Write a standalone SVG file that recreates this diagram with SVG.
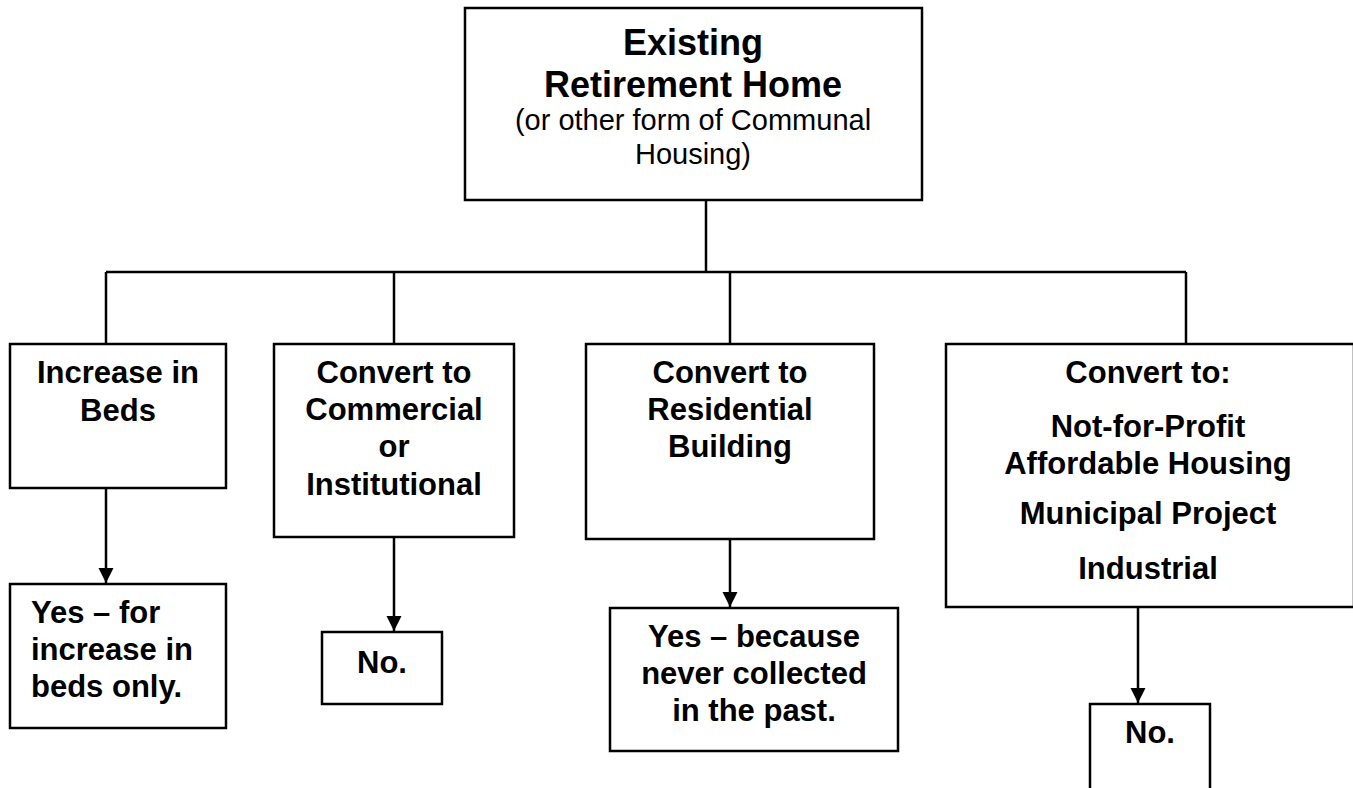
<svg xmlns="http://www.w3.org/2000/svg" width="1353" height="788" viewBox="0 0 1353 788">
<style>
.box{fill:#fff;stroke:#000;stroke-width:2.5}
.t{font-family:"Liberation Sans",Arial,sans-serif;font-weight:bold;font-size:31px;fill:#000;text-anchor:middle}
.l{text-anchor:start}
.title{font-size:36px}
.sub{font-weight:normal;font-size:29px}
.c{fill:none;stroke:#000;stroke-width:2.5}
</style>
<defs>
<marker id="ah" markerUnits="userSpaceOnUse" markerWidth="16" markerHeight="16" refX="15" refY="7.5" orient="auto">
<path d="M0,0 L15,7.5 L0,15 z" fill="#000"/>
</marker>
</defs>
<rect width="1353" height="788" fill="#fff"/>
<g id="connectors">
<path class="c" d="M706,200 V272 M106,272 H1186 M106,272 V344 M394,272 V344 M730,272 V344 M1186,272 V344"/>
<path class="c" d="M106,488 V583" marker-end="url(#ah)"/>
<path class="c" d="M394,537 V631" marker-end="url(#ah)"/>
<path class="c" d="M730,539 V607" marker-end="url(#ah)"/>
<path class="c" d="M1138,607 V703" marker-end="url(#ah)"/>
</g>
<g id="n-top">
<rect class="box" x="465" y="8" width="457" height="192"/>
<text class="t title" x="693" y="55">Existing</text>
<text class="t title" x="693" y="97">Retirement Home</text>
<text class="t sub" x="693" y="130">(or other form of Communal</text>
<text class="t sub" x="693" y="164">Housing)</text>
</g>
<g id="n-beds">
<rect class="box" x="10" y="344" width="216" height="144"/>
<text class="t" x="118" y="383">Increase in</text>
<text class="t" x="118" y="421">Beds</text>
</g>
<g id="n-commercial">
<rect class="box" x="274" y="344" width="240" height="193"/>
<text class="t" x="394" y="383">Convert to</text>
<text class="t" x="394" y="420">Commercial</text>
<text class="t" x="394" y="457">or</text>
<text class="t" x="394" y="495">Institutional</text>
</g>
<g id="n-residential">
<rect class="box" x="586" y="344" width="288" height="195"/>
<text class="t" x="730" y="383">Convert to</text>
<text class="t" x="730" y="420">Residential</text>
<text class="t" x="730" y="457">Building</text>
</g>
<g id="n-other">
<rect class="box" x="946" y="344" width="408" height="263"/>
<text class="t" x="1148" y="383">Convert to:</text>
<text class="t" x="1148" y="437">Not-for-Profit</text>
<text class="t" x="1148" y="474">Affordable Housing</text>
<text class="t" x="1148" y="524">Municipal Project</text>
<text class="t" x="1148" y="579">Industrial</text>
</g>
<g id="n-yes-beds">
<rect class="box" x="10" y="584" width="216" height="144"/>
<text class="t l" x="31" y="623">Yes – for</text>
<text class="t l" x="31" y="660">increase in</text>
<text class="t l" x="31" y="697">beds only.</text>
</g>
<g id="n-no-1">
<rect class="box" x="322" y="632" width="120" height="72"/>
<text class="t" x="382" y="673">No.</text>
</g>
<g id="n-yes-res">
<rect class="box" x="610" y="608" width="288" height="143"/>
<text class="t" x="754" y="647">Yes – because</text>
<text class="t" x="754" y="684">never collected</text>
<text class="t" x="754" y="721">in the past.</text>
</g>
<g id="n-no-2">
<rect class="box" x="1090" y="704" width="120" height="100"/>
<text class="t" x="1150" y="743">No.</text>
</g>
</svg>
